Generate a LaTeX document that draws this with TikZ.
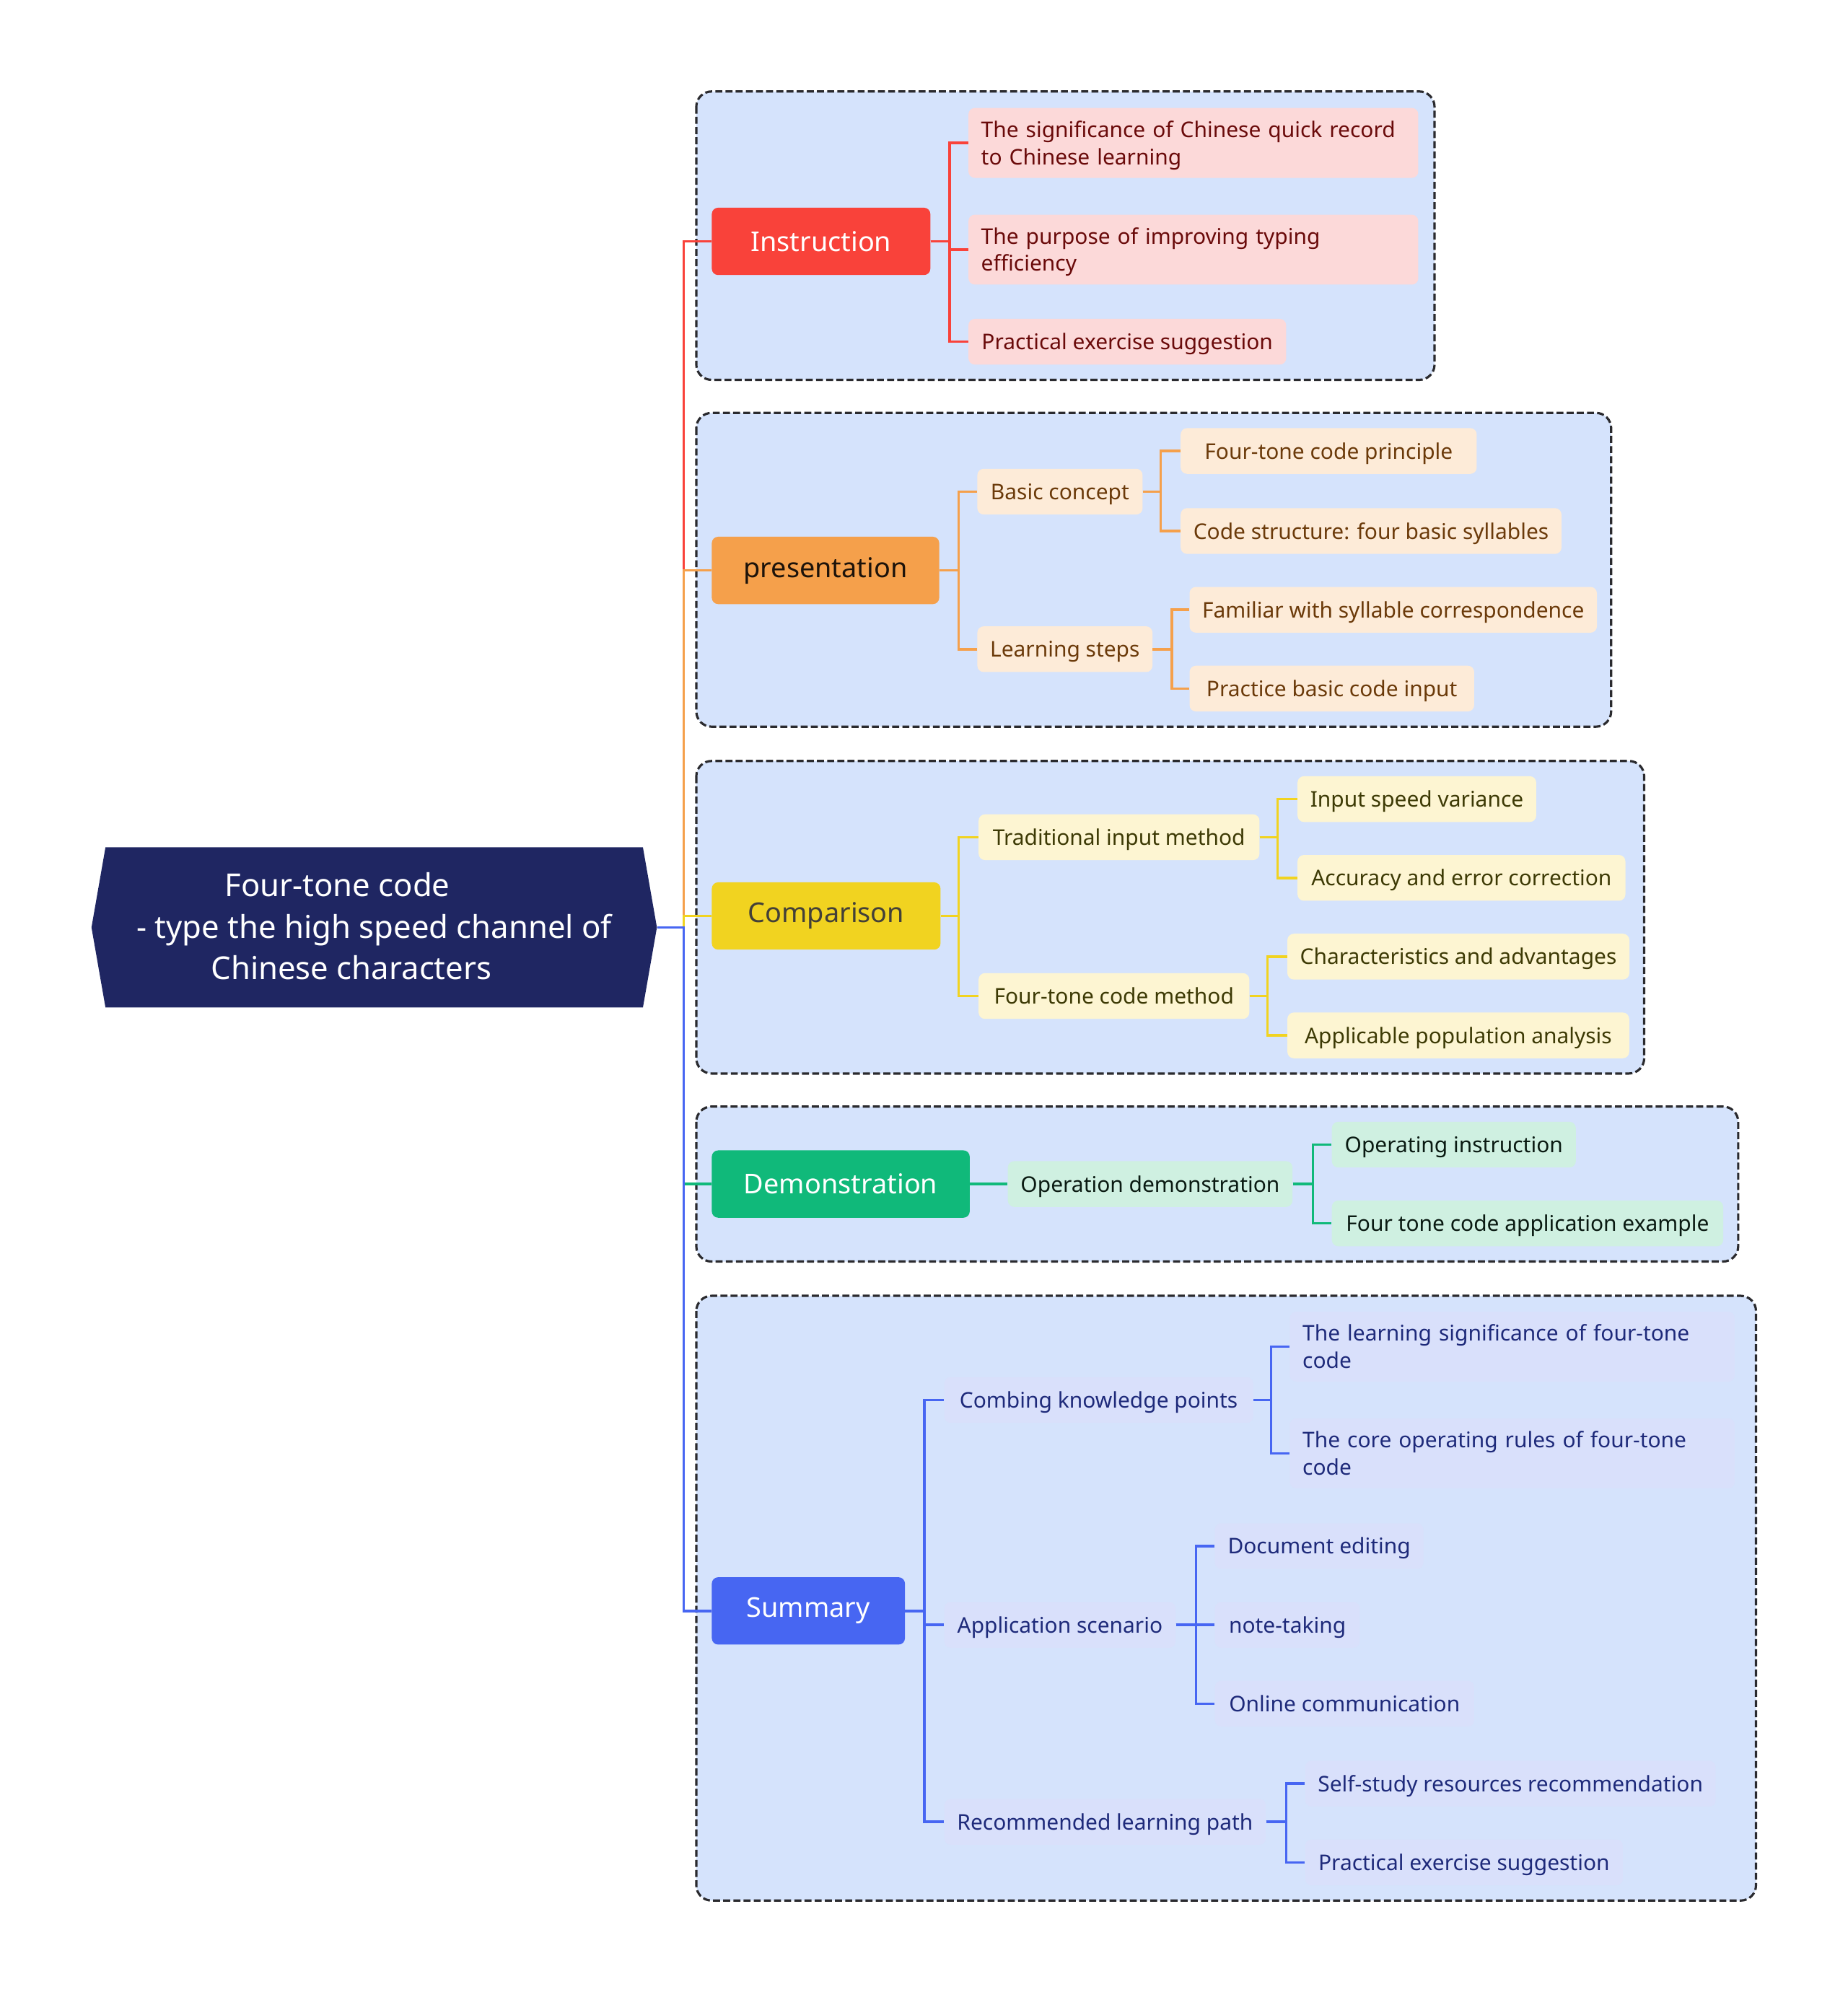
\documentclass[tikz,border=0pt]{standalone}
\usepackage{fontspec}
\setmainfont{Noto Sans}
\definecolor{navy}{HTML}{1F2662}
\definecolor{grpfill}{HTML}{D5E3FC}
\definecolor{cred}{HTML}{F9423A}
\definecolor{lred}{HTML}{FCD9D9}
\definecolor{tred}{HTML}{6A0A0A}
\definecolor{corange}{HTML}{F5A04B}
\definecolor{lorange}{HTML}{FDEBD8}
\definecolor{torange}{HTML}{6B3A0A}
\definecolor{cyellow}{HTML}{F1D320}
\definecolor{lyellow}{HTML}{FDF5D2}
\definecolor{tyellow}{HTML}{3D3A05}
\definecolor{cgreen}{HTML}{10B97A}
\definecolor{lgreen}{HTML}{CFF0E1}
\definecolor{tgreen}{HTML}{0A1A12}
\definecolor{cblue}{HTML}{4766F2}
\definecolor{lblue}{HTML}{D9E0FB}
\definecolor{tblue}{HTML}{1E2A7A}
\definecolor{frame}{HTML}{2A2A2E}
\tikzset{
  grp/.style={draw=frame, line width=1.8pt, dash pattern=on 5.5pt off 2.5pt, rounded corners=12pt, fill=grpfill},
  mainbox/.style={rounded corners=5pt, minimum height=53pt, anchor=west, inner sep=0pt, font=\fontsize{21.5}{26}\selectfont},
  leaf/.style={rounded corners=5pt, minimum height=36pt, anchor=west, inner xsep=10pt, inner ysep=0pt, font=\fontsize{17}{21.5}\selectfont},
  leafone/.style={leaf, text height=16.5pt, text depth=4pt},
  leaftwo/.style={leaf, minimum height=55pt, align=left, text width=#1, text height=16.5pt, text depth=25.5pt},
  conn/.style={line width=2pt},
}
\begin{document}
\begin{tikzpicture}[x=1pt,y=-1pt]
\useasboundingbox (0,0) rectangle (1454,1568);
% group frames
\draw[grp] (548,72) rectangle (1129,299);
\draw[grp] (548,325) rectangle (1268,572);
\draw[grp] (548,599) rectangle (1294,845);
\draw[grp] (548,871) rectangle (1368,993);
\draw[grp] (548,1020) rectangle (1382,1496);
% root
\fill[navy] (72,730) -- (83,667) -- (506,667) -- (517,730) -- (506,793) -- (83,793) -- cycle;
\node[minimum width=445pt, minimum height=126pt, inner sep=0pt, align=center, text=white,
  font=\fontsize{24.8}{32.5}\selectfont] (root) at (294.5,729)
  {Four-tone code\hspace{58pt}\mbox{}\\- type the high speed channel of\\Chinese characters\hspace{36pt}\mbox{}};
\coordinate (sp) at (538,730);
% main nodes
\node[mainbox, fill=cred, text=white, minimum width=172pt] (ins) at (560,190) {Instruction};
\node[mainbox, fill=corange, text=black!85!brown, minimum width=179pt] (pre) at (560,449) {presentation};
\node[mainbox, fill=cyellow, text=black!85!yellow, minimum width=180pt] (com) at (560,721) {Comparison};
\node[mainbox, fill=cgreen, text=white, minimum width=203pt] (dem) at (560,932) {Demonstration};
\node[mainbox, fill=cblue, text=white, minimum width=152pt] (sum) at (560,1268) {Summary};
% spine
\draw[conn, cred] (root.east |- sp) -- (sp) |- (ins.west);
\draw[conn, corange] (root.east |- sp) -- (sp) |- (pre.west);
\draw[conn, cyellow] (root.east |- sp) -- (sp) |- (com.west);
\draw[conn, cgreen] (root.east |- sp) -- (sp) |- (dem.west);
\draw[conn, cblue] (root.east |- sp) -- (sp) |- (sum.west);
% Instruction
\node[leaftwo=334pt, fill=lred, text=tred] (i1) at (762,112.5) {The significance of Chinese quick record\\to Chinese learning};
\node[leaftwo=334pt, fill=lred, text=tred] (i2) at (762,196.5) {The purpose of improving typing\\efficiency};
\node[leafone, fill=lred, text=tred, minimum width=250pt] (i3) at (762,269) {Practical exercise suggestion};
\foreach \c in {i1,i2,i3} \draw[conn, cred] (ins.east) -- ++(15,0) |- (\c.west);
% Presentation
\node[leafone, fill=lorange, text=torange, minimum width=130pt] (pb) at (769,387) {Basic concept};
\node[leafone, fill=lorange, text=torange, minimum width=233pt] (pb1) at (929,355) {Four-tone code principle};
\node[leafone, fill=lorange, text=torange, minimum width=298pt] (pb2) at (929,418) {Code structure: four basic syllables};
\node[leafone, fill=lorange, text=torange, minimum width=136pt] (pl) at (769,511) {Learning steps};
\node[leafone, fill=lorange, text=torange, minimum width=320pt] (pl1) at (936,480) {Familiar with syllable correspondence};
\node[leafone, fill=lorange, text=torange, minimum width=224pt] (pl2) at (936,542) {Practice basic code input};
\foreach \c in {pb,pl} \draw[conn, corange] (pre.east) -- ++(15,0) |- (\c.west);
\foreach \c in {pb1,pb2} \draw[conn, corange] (pb.east) -- ++(14,0) |- (\c.west);
\foreach \c in {pl1,pl2} \draw[conn, corange] (pl.east) -- ++(15,0) |- (\c.west);
% Comparison
\node[leafone, fill=lyellow, text=tyellow, minimum width=221pt] (ct) at (770,659) {Traditional input method};
\node[leafone, fill=lyellow, text=tyellow, minimum width=187pt] (ct1) at (1021,629) {Input speed variance};
\node[leafone, fill=lyellow, text=tyellow, minimum width=258pt] (ct2) at (1021,691) {Accuracy and error correction};
\node[leafone, fill=lyellow, text=tyellow, minimum width=213pt] (cf) at (770,784) {Four-tone code method};
\node[leafone, fill=lyellow, text=tyellow, minimum width=268pt] (cf1) at (1013,753) {Characteristics and advantages};
\node[leafone, fill=lyellow, text=tyellow, minimum width=269pt] (cf2) at (1013,815) {Applicable population analysis};
\foreach \c in {ct,cf} \draw[conn, cyellow] (com.east) -- ++(14,0) |- (\c.west);
\foreach \c in {ct1,ct2} \draw[conn, cyellow] (ct.east) -- ++(14,0) |- (\c.west);
\foreach \c in {cf1,cf2} \draw[conn, cyellow] (cf.east) -- ++(14,0) |- (\c.west);
% Demonstration
\node[leafone, fill=lgreen, text=tgreen, minimum width=224pt] (do) at (793,932) {Operation demonstration};
\node[leafone, fill=lgreen, text=tgreen, minimum width=192pt] (do1) at (1048,901) {Operating instruction};
\node[leafone, fill=lgreen, text=tgreen, minimum width=308pt] (do2) at (1048,963) {Four tone code application example};
\draw[conn, cgreen] (dem.east) -- (do.west);
\foreach \c in {do1,do2} \draw[conn, cgreen] (do.east) -- ++(16,0) |- (\c.west);
% Summary
\node[leafone, fill=lblue, text=tblue, minimum width=243pt] (sk) at (743,1102) {Combing knowledge points};
\node[leaftwo=330pt, fill=lblue, text=tblue] (sk1) at (1015,1060) {The learning significance of four-tone\\code};
\node[leaftwo=330pt, fill=lblue, text=tblue] (sk2) at (1015,1144) {The core operating rules of four-tone\\code};
\node[leafone, fill=lblue, text=tblue, minimum width=182pt] (sa) at (743,1279) {Application scenario};
\node[leafone, fill=lblue, text=tblue, minimum width=164pt] (sa1) at (956,1217) {Document editing};
\node[leafone, fill=lblue, text=tblue, minimum width=114pt] (sa2) at (956,1279) {note-taking};
\node[leafone, fill=lblue, text=tblue, minimum width=204pt] (sa3) at (956,1341) {Online communication};
\node[leafone, fill=lblue, text=tblue, minimum width=253pt] (sr) at (743,1434) {Recommended learning path};
\node[leafone, fill=lblue, text=tblue, minimum width=323pt] (sr1) at (1027,1404) {Self-study resources recommendation};
\node[leafone, fill=lblue, text=tblue, minimum width=250pt] (sr2) at (1027,1466) {Practical exercise suggestion};
\foreach \c in {sk,sa,sr} \draw[conn, cblue] (sum.east) -- ++(15,0) |- (\c.west);
\foreach \c in {sk1,sk2} \draw[conn, cblue] (sk.east) -- ++(14,0) |- (\c.west);
\foreach \c in {sa1,sa2,sa3} \draw[conn, cblue] (sa.east) -- ++(16,0) |- (\c.west);
\foreach \c in {sr1,sr2} \draw[conn, cblue] (sr.east) -- ++(16,0) |- (\c.west);
\end{tikzpicture}
\end{document}
